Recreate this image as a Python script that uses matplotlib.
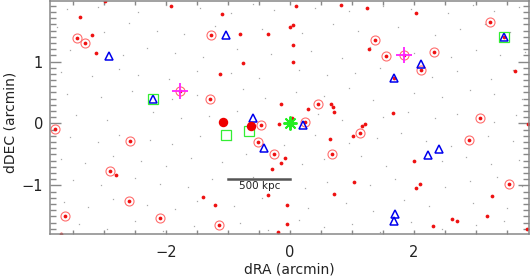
import matplotlib
matplotlib.use('Agg')
import matplotlib.pyplot as plt
from matplotlib.ticker import MultipleLocator

# field objects (faint grey dots), estimated positions in arcmin
bg_x = [-3.6, -3.1, -2.45, -2.0, -1.45, -0.95, -0.6, -0.25, 0.4, 0.95, 1.5, 1.95, 2.55, 2.95, 3.3, 3.7,
        -3.75, -3.0, -2.6, -2.15, -1.7, -1.2, -0.45, 0.2, 0.7, 1.1, 1.75, 2.35, 2.75, 3.15, 3.55,
        -3.55, -2.7, -2.3, -1.85, -1.4, -0.85, -0.3, 0.35, 0.85, 1.3, 2.0, 2.6, 3.0, 3.4, 3.8,
        -3.7, -3.2, -2.75, -2.45, -1.95, -1.5, -0.95, -0.5, 0.15, 0.6, 1.05, 1.45, 2.3, 2.7, 3.25, 3.6,
        -3.6, -3.05, -2.55, -1.9, -1.5, -0.75, -0.4, 0.1, 0.55, 0.95, 1.35, 2.0, 2.45, 2.9, 3.3, 3.75,
        -3.45, -2.95, -2.2, -1.75, -1.3, -0.85, 0.45, 0.85, 1.5, 1.9, 2.35, 2.7, 3.3, 3.65,
        -3.55, -3.1, -2.75, -2.25, -1.9, -1.45, -0.95, -0.1, 0.4, 0.95, 1.4, 1.8, 2.2, 2.6, 3.2, 3.6,
        -3.7, -3.3, -2.85, -2.4, -2.0, -1.6, -1.1, -0.7, 0.2, 0.55, 1.15, 1.55, 2.45, 2.85, 3.25, 3.7,
        -3.5, -3.05, -2.5, -2.1, -1.65, -1.25, -0.6, 0.25, 0.6, 1.3, 1.7, 2.5, 2.9, 3.35, 3.75,
        -3.65, -3.25, -2.85, -2.3, -1.85, -1.5, -0.9, -0.45, 0.3, 0.9, 1.35, 1.85, 2.25, 2.95, 3.5,
        -3.4, -2.95, -2.5, -2.05, -1.55, -0.8, -0.35, 0.15, 0.55, 1.0, 1.45, 1.95, 2.45, 3.0, 3.45]
bg_y = [1.84, 1.88, 1.80, 1.91, 1.86, 1.79, 1.93, 1.83, 1.87, 1.81, 1.90, 1.85, 1.78, 1.92, 1.82, 1.88,
        1.55, 1.48, 1.62, 1.50, 1.44, 1.58, 1.52, 1.46, 1.60, 1.49, 1.56, 1.43, 1.53, 1.61, 1.47,
        1.18, 1.10, 1.22, 1.14, 1.07, 1.20, 1.12, 1.17, 1.05, 1.23, 1.13, 1.08, 1.19, 1.11, 1.16,
        0.83, 0.76, 0.88, 0.79, 0.72, 0.85, 0.81, 0.74, 0.87, 0.78, 0.82, 0.90, 0.75, 0.84, 0.71, 0.86,
        0.48, 0.42, 0.52, 0.39, 0.46, 0.55, 0.41, 0.50, 0.44, 0.57, 0.38, 0.49, 0.43, 0.54, 0.47, 0.40,
        0.14, 0.06, 0.18, 0.09, 0.12, 0.20, 0.15, 0.05, 0.11, 0.19, 0.08, 0.16, 0.02, 0.13,
        -0.22, -0.30, -0.18, -0.27, -0.33, -0.20, -0.26, -0.35, -0.19, -0.31, -0.24, -0.16, -0.29, -0.37, -0.21, -0.28,
        -0.57, -0.64, -0.52, -0.61, -0.68, -0.55, -0.63, -0.50, -0.66, -0.58, -0.53, -0.69, -0.60, -0.54, -0.65, -0.59,
        -0.92, -1.00, -0.88, -0.97, -1.03, -0.90, -0.86, -1.05, -0.94, -0.99, -0.89, -1.02, -0.93, -0.87, -1.01,
        -1.27, -1.35, -1.22, -1.31, -1.38, -1.25, -1.33, -1.20, -1.36, -1.28, -1.41, -1.24, -1.34, -1.29, -1.37,
        -1.62, -1.70, -1.58, -1.74, -1.66, -1.60, -1.72, -1.56, -1.68, -1.63, -1.75, -1.59, -1.71, -1.64, -1.57]

# red galaxies (plain dots)
red_x = [-2.98, -3.39, -3.19, -3.12, -1.10, -0.81, -0.76, -1.12, -1.91, 0.10, 0.82, 1.24, 2.04,
         -0.35, 0.05, 0.01, 0.05, 0.05, 1.27, 3.64, -0.14, 0.30, 0.67, 0.70, 0.72, 1.67, -0.18,
         0.04, 1.17, 1.21, 1.02, 0.65, 3.85, -2.81, -1.40, -1.20, -3.70, -0.07, -0.15, -0.29,
         1.03, 0.71, -0.35, -0.04, -0.04, -0.19, 2.00, 2.10, 2.04, 3.26, 3.19, 2.31, 2.62, 2.70,
         3.82, 1.68, 3.46]
red_y = [1.97, 1.72, 1.43, 1.14, 1.77, 1.45, 0.98, 0.80, 1.89, 1.89, 1.91, 1.87, 1.78,
         1.44, 1.59, 1.55, 1.27, 1.00, 1.20, 0.85, 0.32, 0.24, 0.31, 0.26, 0.19, 0.17, -0.01,
         0.08, -0.04, -0.01, -0.20, -0.25, -0.01, -0.84, -1.19, -1.31, -1.79, -0.56, -0.64, -0.74,
         -0.94, -1.14, -1.15, -1.31, -1.62, -1.75, -0.60, -0.97, -1.04, -1.17, -1.49, -1.66, -1.55, -1.58,
         -1.70, 0.74, 1.39]

# red galaxies marked with a ring
ring_x = [-3.43, -3.30, -1.27, -1.29, -3.79, -0.47, -2.58, -0.52, 3.23, 1.38, 1.55, 2.32, 2.11,
          0.45, 0.25, 3.07, 1.14, 2.89, -0.25, 0.68, 3.54, -2.90, -2.60, -3.62, -2.09, -1.14,
          1.84, -1.78]
ring_y = [1.38, 1.30, 1.42, 0.40, -0.09, -0.02, -0.28, -0.30, 1.63, 1.35, 1.09, 1.16, 0.87,
          0.32, 0.02, 0.08, -0.15, -0.26, -0.49, -0.49, -0.98, -0.77, -1.26, -1.50, -1.53, -1.64,
          1.11, 0.53]

# blue triangles
tri_x = [-2.92, -1.03, -2.21, -0.59, -0.42, 0.21, 2.12, 1.68, 3.46, 2.23, 2.41, 1.69, 1.68]
tri_y = [1.09, 1.42, 0.40, 0.09, -0.39, -0.02, 0.96, 0.74, 1.39, -0.51, -0.42, -1.47, -1.58]

# green squares
sq_x = [-2.21, -1.03, -0.66, 3.46]
sq_y = [0.40, -0.19, -0.13, 1.40]

# large red dots
big_x = [-1.08, -0.63]
big_y = [0.03, -0.04]

# magenta crosses
cross_x = [1.84, -1.78]
cross_y = [1.11, 0.53]

# centre
cen_x = [0.0]
cen_y = [0.0]

fig = plt.figure(figsize=(5.3, 2.77), dpi=100)
ax = fig.add_axes([50 / 530, 43 / 277, 479 / 530, 233.5 / 277])

ax.plot(bg_x, bg_y, 's', color='#9a9a9a', ms=0.9, mew=0, alpha=0.85)
ax.plot(ring_x, ring_y, 'o', mfc='none', mec='#ff6e6e', ms=6.5, mew=0.8)
ax.plot(red_x + ring_x, red_y + ring_y, 'o', color='#ee1111', ms=2.7, mew=0)
ax.plot(tri_x, tri_y, '^', mfc='none', mec='#0000ee', ms=5.2, mew=1.1)
ax.plot(sq_x, sq_y, 's', mfc='none', mec='#33ee33', ms=7.5, mew=0.9)
ax.plot(big_x, big_y, 'o', color='#ee0000', ms=6.8, mew=0)
ax.plot(cross_x, cross_y, '+', color='#ff22ff', ms=11, mew=1.3)
ax.plot(cen_x, cen_y, marker=(8, 2, 0), color='#22ee22', ms=10, mew=1.4, ls='none')

# scale bar
ax.plot([-1.0, 0.0], [-0.9, -0.9], color='#555555', lw=1.8)
ax.text(-0.48, -0.93, '500 kpc', ha='center', va='top', fontsize=7.5, color='#222222')

ax.set_xlim(-3.87, 3.86)
ax.set_ylim(-1.785, 1.985)
ax.set_xticks([-2, 0, 2])
ax.set_yticks([-1, 0, 1])
ax.xaxis.set_minor_locator(MultipleLocator(0.5))
ax.yaxis.set_minor_locator(MultipleLocator(0.1))
ax.tick_params(axis='x', which='both', direction='in', top=True, length=3, width=1,
               color='#888888', labelsize=10.5, pad=8, labelcolor='#222222')
ax.tick_params(axis='y', which='major', direction='in', right=True, length=8, width=1,
               color='#888888', labelsize=10.5, pad=5, labelcolor='#222222')
ax.tick_params(axis='y', which='minor', direction='in', right=True, length=4, width=1,
               color='#888888')
for s in ax.spines.values():
    s.set_color('#888888')
    s.set_linewidth(1.1)

ax.set_xlabel('dRA (arcmin)', fontsize=10, color='#222222', labelpad=2)
ax.set_ylabel('dDEC (arcmin)', fontsize=10, color='#222222', va='center')
ax.yaxis.set_label_coords(-0.082, 0.48)

fig.savefig('out.png', dpi=100)
